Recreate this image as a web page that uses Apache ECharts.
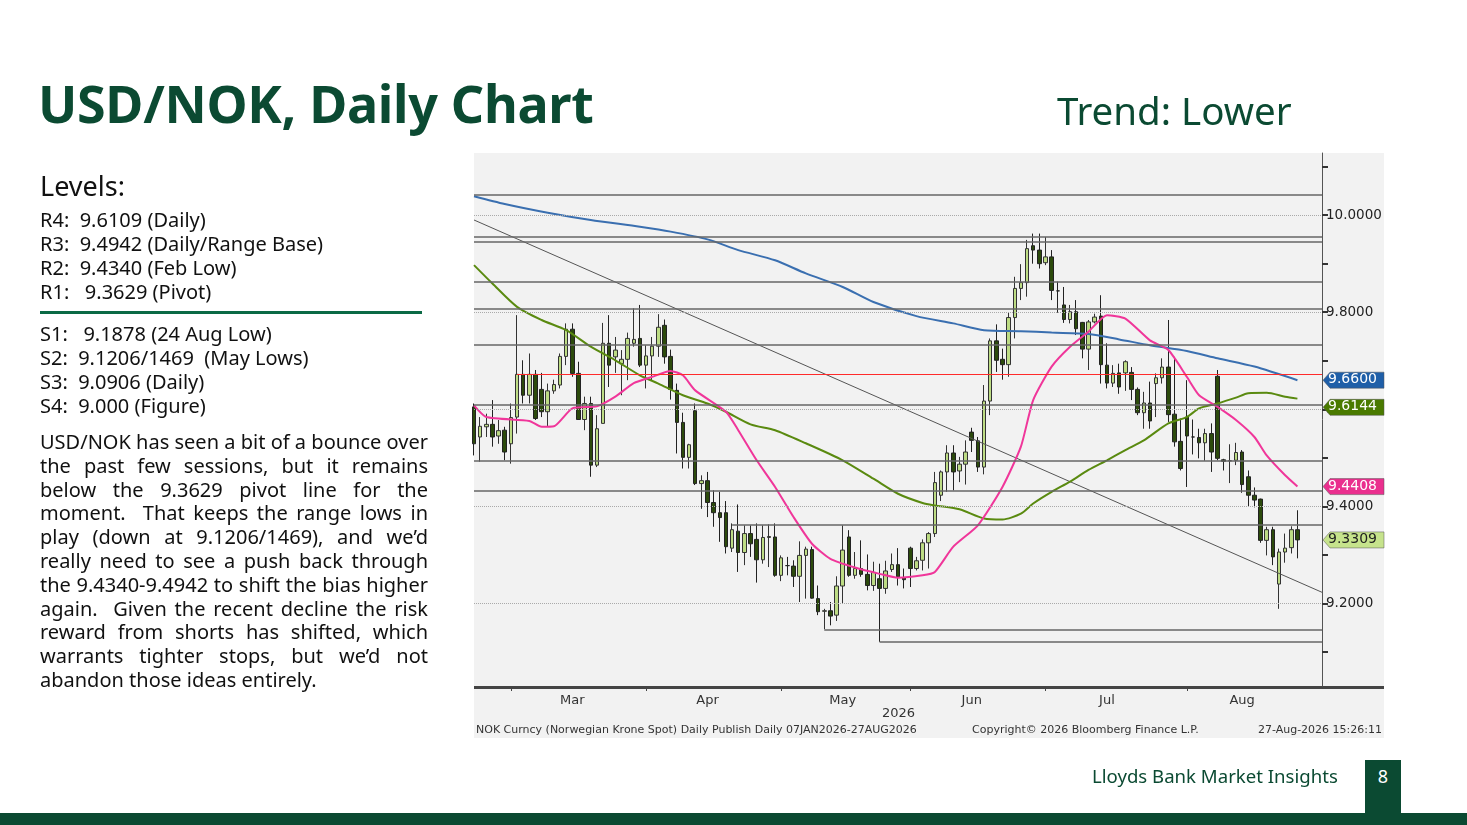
<!DOCTYPE html>
<html><head><meta charset="utf-8">
<script src="https://cdn.jsdelivr.net/npm/echarts@6/dist/echarts.min.js"></script>
<style>
html,body{margin:0;padding:0;background:#fff;width:1467px;height:825px;overflow:hidden;font-family:"Noto Sans",sans-serif;}
#c{position:absolute;left:0;top:0;width:1467px;height:825px;}
.t{position:absolute;color:#0b4a32;white-space:nowrap;}
.lv{position:absolute;left:40px;font-size:20px;color:#111;line-height:24px;white-space:pre;}
#para{position:absolute;left:40px;top:430px;width:388px;font-size:20px;line-height:23.8px;color:#111;text-align:justify;}
</style></head><body>
<div id="c"></div>
<div class="t" style="left:38px;top:67px;font-size:52px;font-weight:bold;letter-spacing:-0.3px;">USD/NOK, Daily Chart</div>
<div class="t" style="left:1057px;top:84px;font-size:38.5px;">Trend: Lower</div>
<div class="lv" style="top:170px;font-size:27px;line-height:32px;">Levels:</div>
<div class="lv" style="top:208px;">R4:  9.6109 (Daily)
R3:  9.4942 (Daily/Range Base)
R2:  9.4340 (Feb Low)
R1:   9.3629 (Pivot)</div>
<div style="position:absolute;left:40px;top:311px;width:382px;height:3px;background:#0b6a45;"></div>
<div class="lv" style="top:322px;">S1:   9.1878 (24 Aug Low)
S2:  9.1206/1469  (May Lows)
S3:  9.0906 (Daily)
S4:  9.000 (Figure)</div>
<div id="para">USD/NOK has seen a bit of a bounce over the past few sessions, but it remains below the 9.3629 pivot line for the moment.&nbsp; That keeps the range lows in play (down at 9.1206/1469), and we’d really need to see a push back through the 9.4340-9.4942 to shift the bias higher again.&nbsp; Given the recent decline the risk reward from shorts has shifted, which warrants tighter stops, but we’d not abandon those ideas entirely.</div>
<div class="t" style="left:1092px;top:763px;font-size:18.6px;">Lloyds Bank Market Insights</div>
<div style="position:absolute;left:1365px;top:760px;width:36px;height:53px;background:#0b4a32;color:#fff;font-size:18px;text-align:center;line-height:32px;">8</div>
<div style="position:absolute;left:0;top:813px;width:1467px;height:12px;background:#0b4a32;"></div>
<script>
const candles = [
[9.605,9.529,9.505,9.612],[9.543,9.565,9.492,9.584],[9.564,9.569,9.543,9.591],[9.569,9.543,9.523,9.619],[9.545,9.556,9.529,9.578],
[9.557,9.512,9.495,9.564],[9.529,9.583,9.488,9.612],[9.584,9.672,9.550,9.794],[9.672,9.629,9.612,9.701],[9.629,9.672,9.612,9.715],
[9.672,9.581,9.578,9.681],[9.641,9.595,9.584,9.675],[9.595,9.638,9.564,9.653],[9.638,9.651,9.632,9.661],[9.650,9.709,9.643,9.715],
[9.709,9.765,9.691,9.777],[9.765,9.674,9.667,9.777],[9.674,9.579,9.578,9.698],[9.579,9.612,9.557,9.626],[9.612,9.485,9.461,9.626],
[9.485,9.560,9.481,9.588],[9.571,9.736,9.571,9.778],[9.736,9.691,9.646,9.794],[9.708,9.722,9.675,9.749],[9.694,9.703,9.629,9.722],
[9.703,9.746,9.660,9.758],[9.736,9.744,9.729,9.808],[9.746,9.691,9.687,9.815],[9.691,9.710,9.643,9.732],[9.710,9.730,9.660,9.749],
[9.730,9.769,9.708,9.796],[9.773,9.708,9.694,9.785],[9.709,9.641,9.620,9.723],[9.639,9.573,9.509,9.653],[9.573,9.501,9.478,9.593],
[9.501,9.527,9.478,9.529],[9.597,9.447,9.444,9.612],[9.447,9.453,9.395,9.464],[9.453,9.408,9.378,9.471],[9.408,9.387,9.358,9.433],
[9.387,9.377,9.327,9.430],[9.387,9.317,9.303,9.411],[9.314,9.352,9.306,9.365],[9.349,9.305,9.265,9.404],[9.305,9.344,9.279,9.361],
[9.344,9.323,9.296,9.361],[9.332,9.290,9.243,9.365],[9.290,9.336,9.282,9.361],[9.336,9.338,9.275,9.363],[9.337,9.258,9.255,9.365],
[9.258,9.294,9.246,9.299],[9.278,9.278,9.258,9.296],[9.277,9.256,9.234,9.289],[9.256,9.299,9.203,9.328],[9.299,9.312,9.210,9.317],
[9.311,9.211,9.210,9.317],[9.210,9.183,9.176,9.237],[9.184,9.185,9.147,9.189],[9.185,9.174,9.155,9.203],[9.176,9.236,9.164,9.256],
[9.236,9.310,9.200,9.361],[9.337,9.258,9.255,9.351],[9.258,9.272,9.251,9.306],[9.272,9.260,9.255,9.330],[9.260,9.237,9.227,9.301],
[9.237,9.264,9.226,9.286],[9.251,9.231,9.121,9.282],[9.231,9.267,9.220,9.288],[9.270,9.280,9.265,9.303],[9.280,9.255,9.237,9.314],
[9.253,9.249,9.231,9.272],[9.314,9.272,9.234,9.317],[9.272,9.288,9.268,9.296],[9.289,9.325,9.268,9.332],[9.325,9.344,9.272,9.347],
[9.344,9.449,9.337,9.471],[9.423,9.471,9.411,9.474],[9.471,9.510,9.430,9.526],[9.510,9.471,9.433,9.526],[9.473,9.487,9.450,9.502],
[9.487,9.512,9.445,9.536],[9.553,9.536,9.512,9.562],[9.535,9.481,9.471,9.543],[9.481,9.617,9.466,9.650],[9.617,9.741,9.588,9.746],
[9.741,9.701,9.677,9.775],[9.703,9.692,9.661,9.725],[9.692,9.789,9.667,9.799],[9.789,9.849,9.746,9.873],[9.849,9.861,9.825,9.899],
[9.861,9.931,9.832,9.949],[9.937,9.928,9.900,9.962],[9.928,9.900,9.890,9.962],[9.902,9.914,9.897,9.955],[9.914,9.845,9.825,9.928],
[9.844,9.844,9.799,9.863],[9.815,9.785,9.778,9.852],[9.785,9.801,9.777,9.815],[9.801,9.766,9.753,9.825],[9.779,9.724,9.705,9.780],
[9.724,9.780,9.681,9.784],[9.780,9.790,9.777,9.797],[9.792,9.692,9.653,9.835],[9.691,9.654,9.643,9.736],[9.654,9.674,9.646,9.691],
[9.675,9.646,9.632,9.694],[9.675,9.698,9.638,9.701],[9.676,9.641,9.619,9.687],[9.641,9.593,9.588,9.645],[9.593,9.613,9.560,9.636],
[9.613,9.576,9.560,9.657],[9.653,9.665,9.584,9.674],[9.665,9.687,9.653,9.705],[9.687,9.589,9.574,9.784],[9.590,9.533,9.523,9.708],
[9.534,9.478,9.474,9.581],[9.584,9.545,9.440,9.660],[9.543,9.543,9.507,9.579],[9.542,9.531,9.499,9.560],[9.531,9.550,9.494,9.560],
[9.550,9.512,9.471,9.571],[9.668,9.499,9.495,9.681],[9.496,9.493,9.474,9.498],[9.494,9.494,9.448,9.528],[9.495,9.511,9.485,9.531],
[9.512,9.445,9.428,9.516],[9.461,9.423,9.399,9.474],[9.423,9.413,9.398,9.439],[9.415,9.330,9.325,9.416],[9.330,9.352,9.299,9.358],
[9.352,9.296,9.279,9.358],[9.240,9.306,9.189,9.313],[9.306,9.314,9.284,9.344],[9.315,9.352,9.303,9.359],[9.352,9.331,9.293,9.392]
];
const ma20 = [[0,9.608],[2,9.584],[9,9.576],[11,9.564],[13,9.565],[16,9.602],[20,9.606],[23,9.626],[26,9.654],[29,9.667],[32,9.679],[34,9.670],[36,9.639],[41,9.595],[43,9.557],[46,9.495],[49,9.440],[52,9.378],[55,9.323],[58,9.292],[62,9.274],[66,9.261],[69,9.253],[73,9.258],[75,9.265],[78,9.317],[82,9.361],[86,9.440],[89,9.523],[91,9.619],[94,9.688],[97,9.729],[100,9.760],[103,9.794],[106,9.787],[110,9.742],[113,9.722],[116,9.667],[118,9.629],[121,9.605],[124,9.578],[127,9.543],[129,9.505],[132,9.464],[134,9.441]];
const ma100 = [[0,9.897],[3,9.859],[7,9.811],[11,9.784],[15,9.763],[19,9.729],[23,9.701],[27,9.670],[30,9.653],[34,9.629],[38,9.612],[41,9.595],[45,9.569],[49,9.557],[54,9.530],[60,9.495],[65,9.457],[69,9.426],[73,9.407],[75,9.402],[79,9.394],[83,9.375],[86,9.373],[89,9.385],[91,9.406],[94,9.430],[97,9.451],[100,9.475],[103,9.495],[106,9.516],[109,9.536],[113,9.571],[116,9.584],[118,9.602],[121,9.612],[124,9.624],[126,9.633],[129,9.634],[132,9.626],[134,9.622]];
const ma200 = [[0,10.039],[5,10.023],[12,10.005],[19,9.990],[27,9.976],[32,9.966],[38,9.950],[43,9.928],[49,9.907],[54,9.880],[60,9.852],[65,9.821],[72,9.792],[78,9.777],[83,9.763],[89,9.761],[94,9.758],[100,9.755],[105,9.744],[110,9.732],[116,9.720],[121,9.705],[127,9.688],[134,9.660]];
const fullLevels = [10.041,9.955,9.946,9.862,9.808,9.734,9.610,9.493,9.433];
const partLevels = [[42,9.363],[57,9.146],[66,9.121]];
const redLevel = [7,9.672];
const trend = [[0,9.990],[138,9.223]];
const gridTicks = [9.2,9.4,9.6,9.8,10.0];
const minorTicks = [9.1,9.3,9.5,9.7,9.9,10.1];
const tags = [[9.6600,'9.6600','#1f5fa8','#fff'],[9.6144,'9.6144','#4a7a00','#fff'],[9.4408,'9.4408','#ea2f8e','#fff'],[9.3309,'9.3309','#c6e38c','#222']];
const monthLabelIdx = [16,38,60,81,103,125];
const monthStartIdx = [6,28,50,71,93,116];

const dates=[]; let d=new Date(Date.UTC(2026,1,20));
while(dates.length<139){const w=d.getUTCDay(); if(w!==0&&w!==6) dates.push(d.toISOString().slice(0,10)); d=new Date(d.getTime()+86400000);}
const MN=['Jan','Feb','Mar','Apr','May','Jun','Jul','Aug','Sep','Oct','Nov','Dec'];

const chart=echarts.init(document.getElementById('c'));
const hl=(y,x0)=>[{coord:[x0,y]},{coord:[138,y]}];
const markData=[];
fullLevels.forEach(v=>markData.push(hl(v,0)));
partLevels.forEach(p=>markData.push(hl(p[1],p[0])));
const dotData=gridTicks.map(v=>hl(v,0));
const baseGraphic=[
    {id:'bg',type:'rect',z:-10,shape:{x:474,y:153,width:910,height:585},style:{fill:'#f2f2f2'}},
    {id:'ax',type:'rect',z:-9,shape:{x:474,y:686,width:910,height:3},style:{fill:'#444'}},
    {id:'yr',type:'text',left:882,top:707,style:{text:'2026',font:'13px "DejaVu Sans"',fill:'#333'}},
    {id:'f1',type:'text',left:476,top:725,style:{text:'NOK Curncy (Norwegian Krone Spot) Daily Publish Daily 07JAN2026-27AUG2026',font:'11px "DejaVu Sans"',fill:'#333'}},
    {id:'f2',type:'text',left:972,top:725,style:{text:'Copyright© 2026 Bloomberg Finance L.P.',font:'11px "DejaVu Sans"',fill:'#333'}},
    {id:'f3',type:'text',right:85,top:725,style:{text:'27-Aug-2026 15:26:11',font:'11px "DejaVu Sans"',fill:'#333'}}
];
chart.setOption({
  animation:false,
  graphic:baseGraphic,
  grid:{left:474,top:153,width:848,height:533},
  xAxis:{type:'category',data:dates,boundaryGap:false,
    axisLine:{show:false},
    axisTick:{show:true,interval:(i)=>monthStartIdx.includes(i),length:5,lineStyle:{color:'#444'}},
    axisLabel:{interval:(i)=>monthLabelIdx.includes(i),formatter:(v)=>MN[+v.slice(5,7)-1],color:'#333',fontSize:13,fontFamily:'DejaVu Sans',margin:8},
    splitLine:{show:false}},
  yAxis:{type:'value',position:'right',min:9.03,max:10.128,scale:true,
    axisLine:{show:true,lineStyle:{color:'#555'}},
    axisTick:{show:true,customValues:gridTicks.concat(minorTicks),length:6,lineStyle:{color:'#333',width:2}},
    axisLabel:{customValues:gridTicks,formatter:v=>v.toFixed(4),color:'#222',fontSize:13.5,fontFamily:'DejaVu Sans',margin:4},
    splitLine:{show:false}},
  series:[
    {type:'line',data:[],markLine:{silent:true,symbol:'none',label:{show:false},lineStyle:{color:'#aaa',type:'dotted',width:1},data:dotData}},
    {type:'line',data:[],markLine:{silent:true,symbol:'none',label:{show:false},lineStyle:{color:'#666',type:'solid',width:1.5},data:markData}},
    {type:'line',data:[],markLine:{silent:true,symbol:'none',label:{show:false},lineStyle:{color:'#ff2b2b',type:'solid',width:1.2},data:[hl(redLevel[1],redLevel[0])]}},
    {type:'line',data:trend,symbol:'none',lineStyle:{color:'#555',width:1}},
    {type:'line',data:ma200,symbol:'none',smooth:0.25,lineStyle:{color:'#3a6fb0',width:2}},
    {type:'line',data:ma100,symbol:'none',smooth:0.25,lineStyle:{color:'#5a8a10',width:2}},
    {type:'line',data:ma20,symbol:'none',smooth:0.2,lineStyle:{color:'#f0369a',width:2}},
    {type:'candlestick',data:candles,barWidth:4,
     itemStyle:{color:'#bddc84',color0:'#2c4a0c',borderColor:'#333',borderColor0:'#222',borderWidth:1}}
  ]
});
const g=baseGraphic.slice();
tags.forEach((t,k)=>{
  let y=chart.convertToPixel({yAxisIndex:0},t[0]);
  if(t[1]==='9.6144') y+=5;
  g.push({id:'tp'+k,type:'polygon',z:50,shape:{points:[[1323,y],[1330,y-8],[1384,y-8],[1384,y+8],[1330,y+8]]},style:{fill:t[2],stroke:'#555',lineWidth:0.5}});
  g.push({id:'tt'+k,type:'text',z:51,x:1328,y:y-7.5,style:{text:t[1],font:'14px "DejaVu Sans"',fill:t[3]}});
});
chart.setOption({graphic:g});
</script>
</body></html>
